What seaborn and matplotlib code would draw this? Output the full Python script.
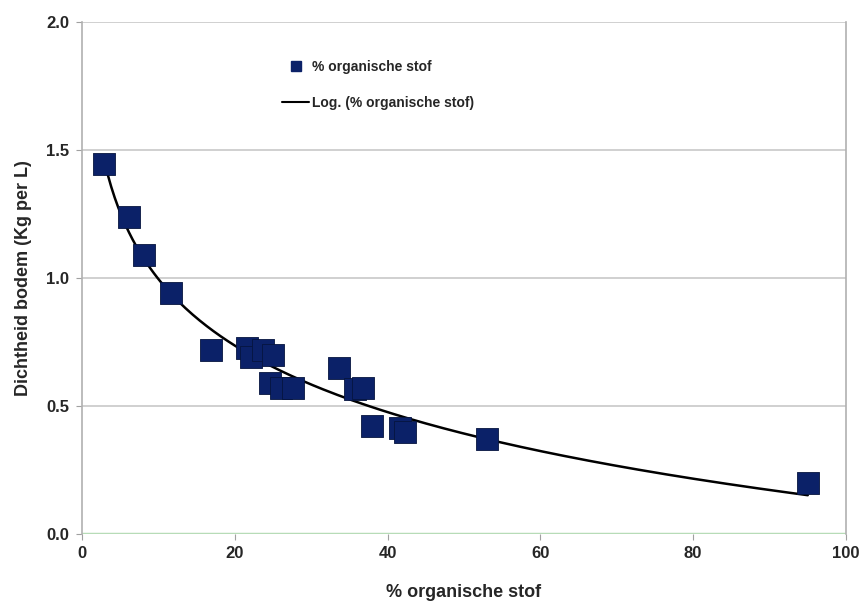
import matplotlib.pyplot as plt
import numpy as np
import pandas as pd
import seaborn as sns

# organic matter (%) vs soil density (kg per L)
pct_organic = [2.9, 6.2, 8.1, 11.6, 16.9, 21.6, 22.1, 23.7, 25.0, 24.6,
               26.0, 27.6, 33.6, 35.7, 36.8, 38.0, 41.6, 42.3, 53.0, 95.0]
density = [1.445, 1.24, 1.09, 0.94, 0.72, 0.727, 0.69, 0.72, 0.70, 0.59,
           0.57, 0.57, 0.65, 0.566, 0.57, 0.42, 0.414, 0.40, 0.37, 0.20]

df = pd.DataFrame({'pct': pct_organic, 'dens': density})

# logarithmic trendline, like Excel's "Log." fit
a, b = np.polyfit(np.log(df['pct']), df['dens'], 1)
xs = np.linspace(df['pct'].min(), df['pct'].max(), 200)
trend = pd.DataFrame({'pct': xs, 'dens': a * np.log(xs) + b})

sns.set_style('white')
plt.rcParams['font.family'] = ['Liberation Sans', 'DejaVu Sans']
plt.rcParams['font.weight'] = 'bold'

fig = plt.figure(figsize=(8.62, 6.07), dpi=100)
ax = fig.add_axes([0.0951, 0.1203, 0.8863, 0.8435])

navy = '#0b2168'
sns.lineplot(data=trend, x='pct', y='dens', color='black', lw=1.8, ax=ax, zorder=2)
sns.scatterplot(data=df, x='pct', y='dens', marker='s', s=250, color=navy,
                edgecolor='#06143f', linewidth=0.6, ax=ax, zorder=3)

ax.set_xlim(0, 100)
ax.set_ylim(0, 2.0)
ax.set_xticks([0, 20, 40, 60, 80, 100])
ax.set_yticks([0.0, 0.5, 1.0, 1.5, 2.0])
ax.set_yticklabels(['0.0', '0.5', '1.0', '1.5', '2.0'])
for y in [0.5, 1.0, 1.5, 2.0]:
    ax.axhline(y, color='#c8c8c8', lw=1.2, zorder=1)
ax.axhline(0, color='#b7dcb7', lw=2.5, zorder=1)

for side in ['left', 'right']:
    ax.spines[side].set_color('#b0b0b0')
    ax.spines[side].set_linewidth(1.2)
ax.spines['top'].set_visible(False)
ax.spines['bottom'].set_visible(False)
ax.tick_params(axis='both', direction='out', length=4, color='#a0a0a0',
               labelsize=12, pad=5, left=True, bottom=True)
for lab in ax.get_xticklabels() + ax.get_yticklabels():
    lab.set_fontweight('bold')

ax.set_xlabel('% organische stof', fontsize=13, fontweight='bold', labelpad=16)
ax.set_ylabel('Dichtheid bodem (Kg per L)', fontsize=13, fontweight='bold', labelpad=10)

h_pts = plt.Line2D([], [], marker='s', ls='none', color=navy, markersize=7)
h_line = plt.Line2D([], [], color='black', lw=1.5)
ax.legend([h_pts, h_line], ['% organische stof', 'Log. (% organische stof)'],
          loc='upper left', bbox_to_anchor=(0.245, 0.95), frameon=False,
          prop={'size': 10, 'weight': 'bold'}, labelspacing=1.6,
          handlelength=2.0, handletextpad=0.2)

fig.savefig('out.png', dpi=100, facecolor='white')
